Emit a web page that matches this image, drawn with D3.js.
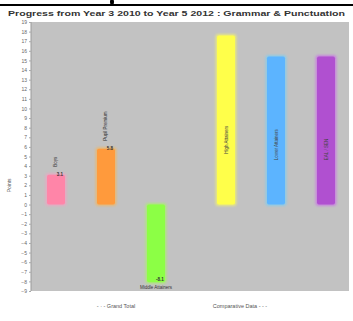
<!DOCTYPE html>
<html lang="en">
<head>
  <meta charset="UTF-8">
  <title>Progress Year 3 2010 to Year 5 2012</title>
  <script src="https://d3js.org/d3.v7.min.js"></script>
  <style>
    body { margin: 0; background: #ffffff; overflow: hidden; }
    svg { display: block; font-family: "Liberation Sans", Arial, sans-serif; }
  </style>
</head>
<body>
  <svg id="chart" width="353" height="321"></svg>
  <script>
    // data
    const groups = ["school", "comparative"];
    const schoolCats = ["Boys", "Pupil Premium", "Middle Attainers"];
    const compCats = ["High Attainers", "Lower Attainers", "EAL / SEN"];
    const schoolValues = [3.1, 5.8, -8.1];
    const compValues = [17.6, 15.4, 15.4];
    const barColors = ["#ff85a8", "#ff9a3c", "#8cff45", "#ffff4a", "#5cb4ff", "#b050d0"];
    const yTicks = d3.range(-9, 20);
    const legendItems = ["- · -  Grand Total", "Comparative Data  - - -"];

    const svg = d3.select("#chart");
    const plot = { left: 31, right: 349, top: 22, bottom: 291 };

    // top rule
    svg.append("line").attr("x1", 0).attr("x2", 353).attr("y1", 5).attr("y2", 5)
       .attr("stroke", "#000").attr("stroke-width", 2);
    svg.append("ellipse").attr("cx", 112).attr("cy", 2).attr("rx", 2).attr("ry", 3).attr("fill", "#000");

    svg.append("text")
       .attr("x", 8).attr("y", 16)
       .attr("textLength", 337).attr("lengthAdjust", "spacingAndGlyphs")
       .attr("font-size", 8).attr("font-weight", "bold").attr("fill", "#333")
       .text("Progress from Year 3 2010 to Year 5 2012 : Grammar & Punctuation");

    svg.append("rect")
       .attr("x", plot.left).attr("y", plot.top)
       .attr("width", plot.right - plot.left).attr("height", plot.bottom - plot.top)
       .attr("fill", "#c2c2c2");
    svg.append("line").attr("x1", plot.left).attr("x2", plot.left)
       .attr("y1", plot.top).attr("y2", plot.bottom).attr("stroke", "#999");

    const y = d3.scaleLinear().domain([-9, 19]).range([plot.bottom, plot.top]);

    const yAxis = svg.append("g")
       .attr("transform", `translate(${plot.left},0)`)
       .call(d3.axisLeft(y).tickValues(yTicks).tickSize(2).tickPadding(2));
    yAxis.select(".domain").remove();
    yAxis.selectAll("line").attr("stroke", "#aaa");
    yAxis.selectAll("text").attr("font-size", 5).attr("fill", "#666");

    svg.append("text")
       .attr("transform", `translate(11,${(y(0) + y(4)) / 2}) rotate(-90)`)
       .attr("text-anchor", "middle").attr("font-size", 5).attr("fill", "#555")
       .text("Points");

    const xGroup = d3.scaleBand().domain(groups).range([31, 351]).paddingInner(20 / 170);
    const xSchool = d3.scaleBand().domain(schoolCats).range([0, xGroup.bandwidth()]);
    const xComp = d3.scaleBand().domain(compCats).range([0, xGroup.bandwidth()]);

    const bars = schoolCats.map((c, i) => ({ cat: c, value: schoolValues[i], cx: xGroup("school") + xSchool(c) + xSchool.bandwidth() / 2, inside: false }))
      .concat(compCats.map((c, i) => ({ cat: c, value: compValues[i], cx: xGroup("comparative") + xComp(c) + xComp.bandwidth() / 2, inside: true })));
    bars.forEach((b, i) => b.color = barColors[i]);

    const defs = svg.append("defs");
    defs.append("filter").attr("id", "glow").attr("x", "-50%").attr("y", "-20%").attr("width", "200%").attr("height", "140%")
        .append("feGaussianBlur").attr("stdDeviation", 0.9);

    const bw = 18;
    const g = svg.append("g");
    g.selectAll("rect.halo").data(bars).join("rect")
     .attr("x", d => d.cx - bw / 2 - 1.5).attr("width", bw + 3)
     .attr("y", d => Math.min(y(d.value), y(0)) - 1.5)
     .attr("height", d => Math.abs(y(d.value) - y(0)) + 3)
     .attr("rx", 3).attr("fill", d => d3.color(d.color).brighter(0.4)).attr("opacity", 0.6)
     .attr("filter", "url(#glow)");
    g.selectAll("rect.bar").data(bars).join("rect")
     .attr("x", d => d.cx - bw / 2).attr("width", bw)
     .attr("y", d => Math.min(y(d.value), y(0)))
     .attr("height", d => Math.abs(y(d.value) - y(0)))
     .attr("rx", 2).attr("fill", d => d.color);

    // value tags on the school bars
    const school = bars.filter(d => !d.inside);
    g.selectAll("text.val").data(school).join("text")
     .attr("x", d => d.cx + 4)
     .attr("y", d => d.value >= 0 ? y(d.value) + 1 : y(d.value) - 1)
     .attr("text-anchor", "middle").attr("font-size", 4.5).attr("font-weight", "bold").attr("fill", "#333")
     .text(d => d.value.toFixed(1));

    // category names
    school.filter(d => d.value >= 0).forEach(d => {
      g.append("text")
       .attr("transform", `translate(${d.cx + 1},${y(d.value) - 8}) rotate(-90)`)
       .attr("font-size", 4.5).attr("fill", "#333").text(d.cat);
    });
    school.filter(d => d.value < 0).forEach(d => {
      g.append("text").attr("x", d.cx).attr("y", y(d.value) + 7)
       .attr("text-anchor", "middle").attr("font-size", 4.5).attr("fill", "#333").text(d.cat);
    });
    bars.filter(d => d.inside).forEach(d => {
      g.append("text")
       .attr("transform", `translate(${d.cx + 1.5},${y(d.value * 0.3)}) rotate(-90)`)
       .attr("font-size", 4.5).attr("fill", "#444").text(d.cat);
    });

    // legend
    const legendX = [116, 240];
    svg.selectAll("text.leg").data(legendItems).join("text")
       .attr("x", (d, i) => legendX[i]).attr("y", 308)
       .attr("text-anchor", "middle").attr("font-size", 5.5).attr("fill", "#555")
       .text(d => d);
  </script>
</body>
</html>
